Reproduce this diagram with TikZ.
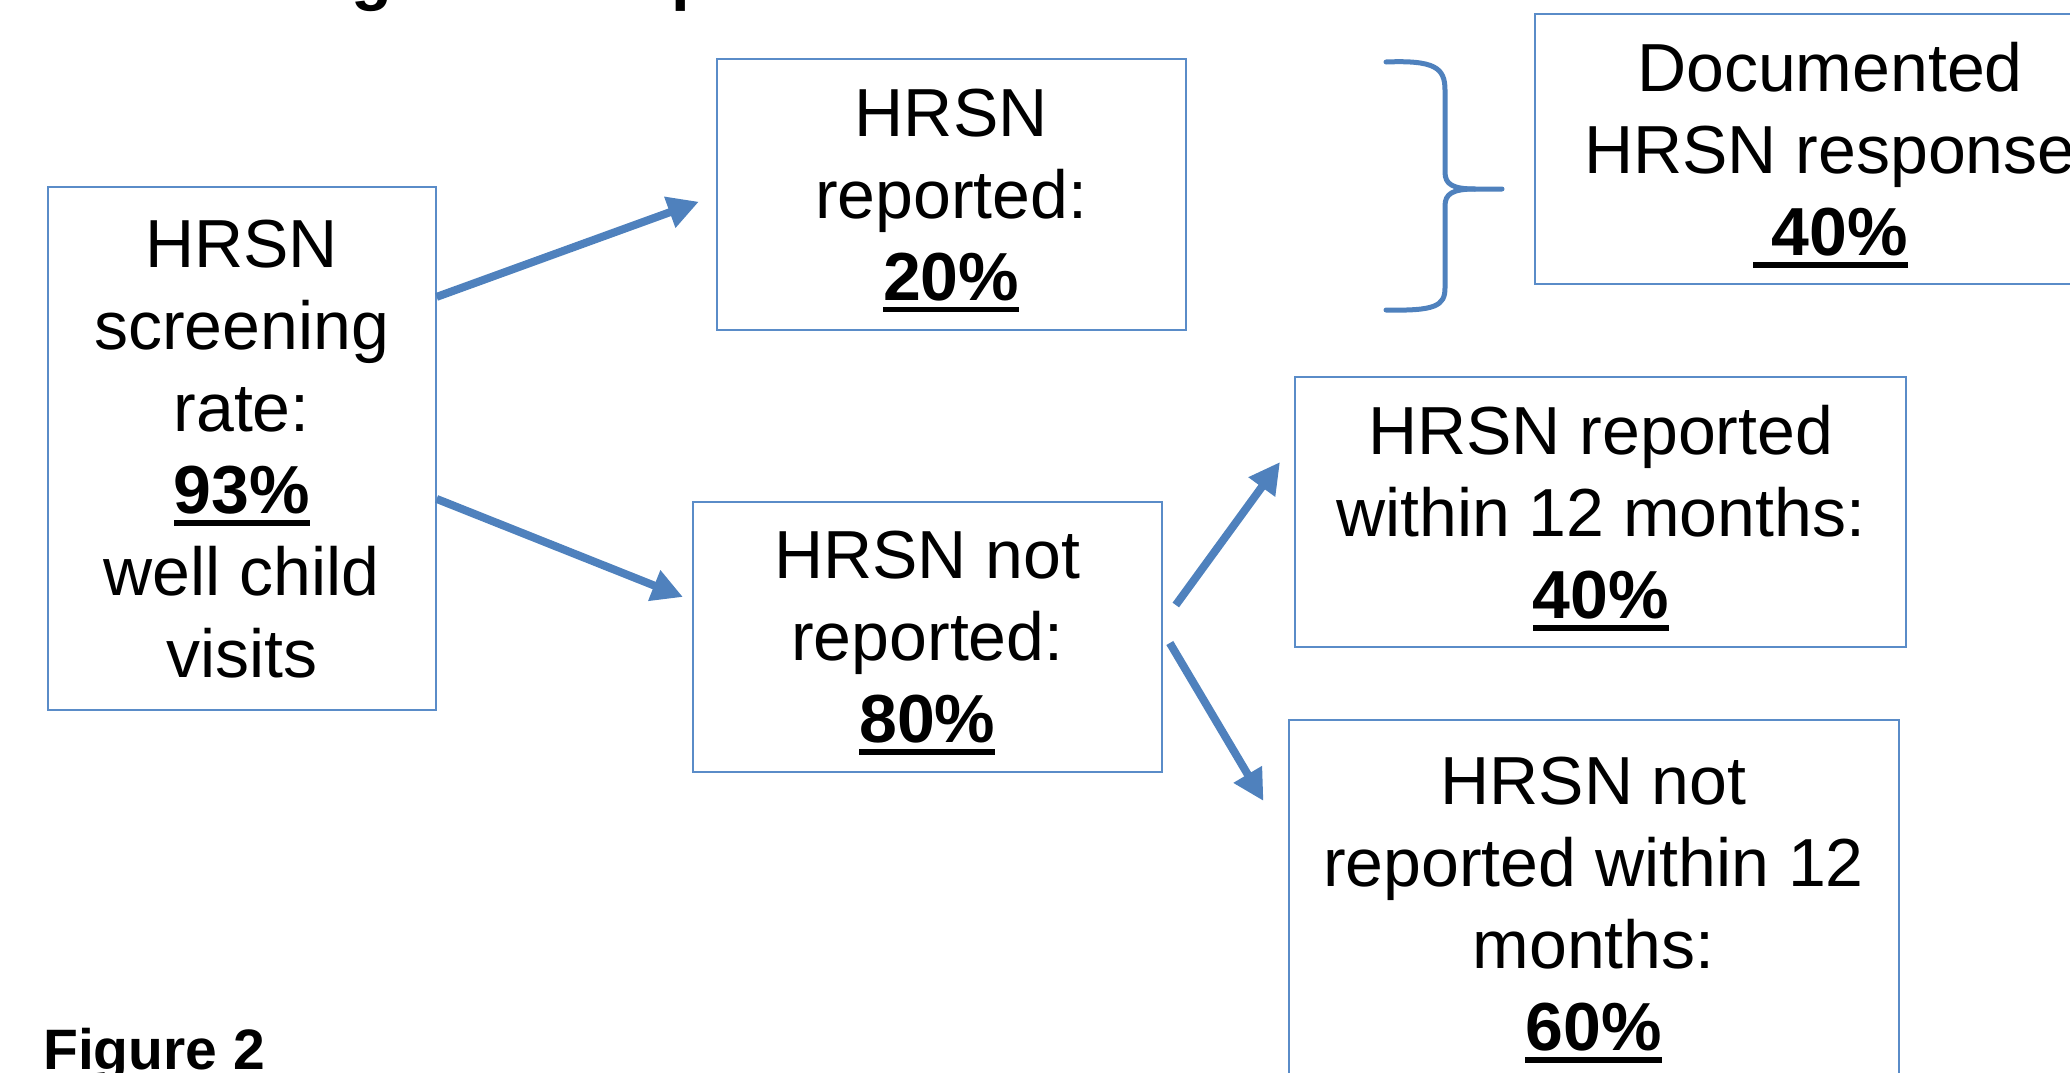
\documentclass[tikz,border=0pt]{standalone}
\usepackage{fontspec}
\setmainfont{Liberation Sans}
\usetikzlibrary{arrows.meta}
\definecolor{boxblue}{RGB}{90,140,200}
\definecolor{arrblue}{RGB}{79,129,189}
\newcommand{\uln}[1]{\setbox0=\hbox{#1}\rlap{\smash{\rule[-0.18em]{\wd0}{0.085em}}}\box0}
\tikzset{
  flowbox/.style={draw=boxblue, line width=2pt, align=center, inner sep=0pt,
    font=\fontsize{68}{82}\selectfont},
  flowarrow/.style={draw=arrblue, line width=8pt, -{Triangle[length=31pt,width=31pt]}},
  brace/.style={draw=arrblue, line width=5pt, line cap=round},
  heading/.style={anchor=base west, inner sep=0pt}
}
\begin{document}
\begin{tikzpicture}[x=1pt,y=-1pt]
\useasboundingbox (0,0) rectangle (2070,1072);
\clip (0,0) rectangle (2070,1072);

\node[heading, font=\fontsize{67}{80}\selectfont\bfseries] (title) at (68,-3) {Screening and Response};
\node[heading, font=\fontsize{57}{66}\selectfont\bfseries] (fig) at (43,1069) {Figure 2};

\node[flowbox, minimum width=388pt, minimum height=523pt] (b1) at (241.6,448.9)
  {HRSN\\screening\\rate:\\\textbf{\uln{93\%}}\\well child\\visits};
\node[flowbox, minimum width=468.6pt, minimum height=270.6pt] (b2) at (951.2,194.7)
  {HRSN\\reported:\\\textbf{\uln{20\%}}};
\node[flowbox, minimum width=468.8pt, minimum height=270.6pt] (b3) at (927.4,637)
  {HRSN not\\reported:\\\textbf{\uln{80\%}}};
\node[flowbox, minimum width=590pt, minimum height=269.3pt] (b4) at (1830,149)
  {Documented\\HRSN response\\\textbf{\uln{\ 40\%}}};
\node[flowbox, minimum width=611.4pt, minimum height=270.6pt] (b5) at (1600.7,512)
  {HRSN reported\\within 12 months:\\\textbf{\uln{40\%}}};
\node[flowbox, minimum width=610pt, minimum height=369pt] (b6) at (1593.5,904)
  {HRSN not\\reported within 12\\months:\\\textbf{\uln{60\%}}};

\draw[flowarrow] ([yshift=152pt]b1.east) -- ([xshift=-17pt,yshift=-7pt]b2.west);
\draw[flowarrow] ([yshift=-50pt]b1.east) -- ([xshift=-9pt,yshift=40pt]b3.west);
\draw[flowarrow] ([xshift=13pt,yshift=32pt]b3.east) -- ([xshift=-14pt,yshift=50pt]b5.west);
\draw[flowarrow] ([xshift=7pt,yshift=-6pt]b3.east) -- ([xshift=-24pt,yshift=103pt]b6.west);

\draw[brace] (1386,62) .. controls (1435,60) and (1445,68) .. (1445,90) -- (1445,172)
  .. controls (1445,184) and (1452,189) .. (1475,189) -- (1502,189);
\draw[brace] (1475,189) .. controls (1452,189) and (1445,194) .. (1445,206) -- (1445,288)
  .. controls (1445,306) and (1435,311) .. (1386,310);
\end{tikzpicture}
\end{document}
